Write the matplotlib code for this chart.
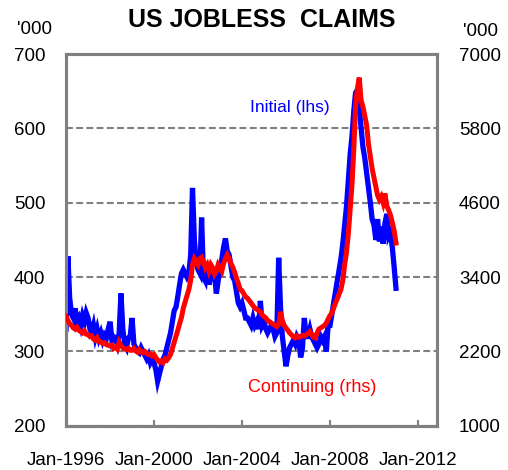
import pandas as pd
import matplotlib
matplotlib.use("Agg")
import matplotlib.pyplot as plt

plt.rcParams['font.family'] = ['Liberation Sans', 'DejaVu Sans']

# monthly readings, Jan-1996 .. Jan-2011
initial = [
    330, 428, 372, 350, 345, 358, 340, 345, 335, 348, 340, 352,   # 1996
    345, 330, 325, 335, 320, 330, 318, 325, 315, 322, 318, 330,   # 1997
    340, 315, 320, 318, 310, 325, 378, 330, 310, 305, 318, 320,   # 1998
    345, 310, 305, 300, 298, 305, 300, 295, 290, 295, 285, 290,   # 1999
    285, 275, 260, 270, 280, 290, 295, 305, 315, 325, 340, 355,   # 2000
    360, 375, 390, 405, 410, 405, 400, 405, 430, 520, 450, 420,   # 2001
    410, 405, 480, 400, 395, 420, 390, 400, 410, 405, 378, 395,   # 2002
    410, 425, 440, 452, 435, 430, 415, 400, 395, 380, 365, 360,   # 2003
    365, 355, 345, 345, 340, 335, 345, 335, 340, 330, 368, 335,   # 2004
    340, 330, 325, 330, 335, 330, 320, 325, 426, 360, 320, 300,   # 2005
    280, 295, 305, 310, 315, 310, 320, 315, 292, 305, 345, 320,   # 2006
    320, 330, 320, 315, 310, 305, 310, 320, 315, 320, 300, 335,   # 2007
    335, 350, 365, 380, 395, 410, 425, 445, 470, 495, 530, 565,   # 2008
    590, 625, 648, 652, 628, 600, 575, 560, 540, 520, 500, 478,   # 2009
    470, 450, 478, 448, 468, 445, 472, 485, 455, 460, 440, 414,   # 2010
    385,                                                          # 2011
]

continuing = [
    2770, 2700, 2650, 2620, 2580, 2560, 2590, 2540, 2520, 2500, 2530, 2480,  # 1996
    2470, 2440, 2450, 2400, 2380, 2420, 2360, 2350, 2330, 2340, 2310, 2300,  # 1997
    2290, 2300, 2250, 2270, 2240, 2350, 2300, 2260, 2240, 2230, 2250, 2220,  # 1998
    2220, 2250, 2210, 2190, 2230, 2200, 2180, 2200, 2170, 2150, 2160, 2130,  # 1999
    2150, 2100, 2060, 2030, 2050, 2020, 2080, 2060, 2100, 2150, 2250, 2350,  # 2000
    2450, 2550, 2650, 2750, 2900, 3000, 3100, 3200, 3350, 3600, 3700, 3650,  # 2001
    3600, 3700, 3720, 3650, 3550, 3600, 3500, 3600, 3550, 3450, 3500, 3600,  # 2002
    3550, 3500, 3620, 3700, 3760, 3700, 3620, 3560, 3480, 3380, 3300, 3200,  # 2003
    3180, 3130, 3080, 3060, 3020, 2980, 2940, 2900, 2880, 2860, 2840, 2790,  # 2004
    2760, 2740, 2700, 2680, 2660, 2640, 2620, 2600, 2640, 2840, 2700, 2620,  # 2005
    2580, 2540, 2500, 2470, 2440, 2420, 2450, 2430, 2440, 2460, 2450, 2470,  # 2006
    2490, 2520, 2480, 2430, 2420, 2500, 2560, 2580, 2600, 2620, 2660, 2720,  # 2007
    2780, 2820, 2900, 2980, 3050, 3130, 3200, 3350, 3600, 3800, 4100, 4500,  # 2008
    4900, 5500, 6150, 6450, 6620, 6250, 6150, 6000, 5850, 5550, 5350, 5150,  # 2009
    5000, 4850, 4720, 4650, 4700, 4600, 4750, 4550, 4480, 4400, 4280, 4150,  # 2010
    3950,                                                                    # 2011
]

dates = pd.date_range('1996-01-01', periods=len(initial), freq='MS')

left_ticks = [200, 300, 400, 500, 600, 700]
right_ticks = [1000, 2200, 3400, 4600, 5800, 7000]
x_ticks = ['1996-01-01', '2000-01-01', '2004-01-01', '2008-01-01', '2012-01-01']
x_labels = ['Jan-1996', 'Jan-2000', 'Jan-2004', 'Jan-2008', 'Jan-2012']

grey = '#808080'

fig = plt.figure(figsize=(5.08, 4.70), dpi=100)
ax = fig.add_axes([0.130, 0.094, 0.730, 0.791])
ax2 = ax.twinx()

ax.plot(dates, initial, color='#0000ff', lw=3.8, solid_joinstyle='miter', zorder=3)
ax2.plot(dates, continuing, color='#ff0000', lw=3.6, solid_joinstyle='miter', zorder=3)

ax.set_ylim(200, 700)
ax2.set_ylim(1000, 7000)
ax.set_yticks(left_ticks)
ax2.set_yticks(right_ticks)
ax.set_xlim(pd.Timestamp('1996-01-01'), pd.Timestamp('2012-11-10'))
ax.set_xticks(pd.to_datetime(x_ticks))
ax.set_xticklabels(x_labels)

ax.yaxis.grid(True, color=grey, linestyle=(0, (3.3, 1.6)), linewidth=1.5)
ax.set_axisbelow(True)

for a in (ax, ax2):
    for s in a.spines.values():
        s.set_color(grey)
        s.set_linewidth(2.2)
ax.tick_params(axis='y', length=0, pad=15, labelsize=13.5)
ax2.tick_params(axis='y', length=0, pad=16, labelsize=13.5)
ax.tick_params(axis='x', direction='in', length=4, width=1.5, color=grey,
               pad=19, labelsize=13.5)

fig.text(262 / 508, 1 - 20 / 470, 'US JOBLESS  CLAIMS', ha='center', va='center',
         fontsize=18, fontweight='bold')
fig.text(35 / 508, 1 - 30 / 470, "'000", ha='center', va='center', fontsize=13.5)
fig.text(480 / 508, 1 - 31 / 470, "'000", ha='center', va='center', fontsize=13.5)

ax.text(0.71, 0.855, 'Initial (lhs)', transform=ax.transAxes, ha='right',
        va='center', color='#0000ff', fontsize=12.5)
ax.text(0.838, 0.103, 'Continuing (rhs)', transform=ax.transAxes, ha='right',
        va='center', color='#ff0000', fontsize=13)

fig.savefig('out.png', dpi=100)
